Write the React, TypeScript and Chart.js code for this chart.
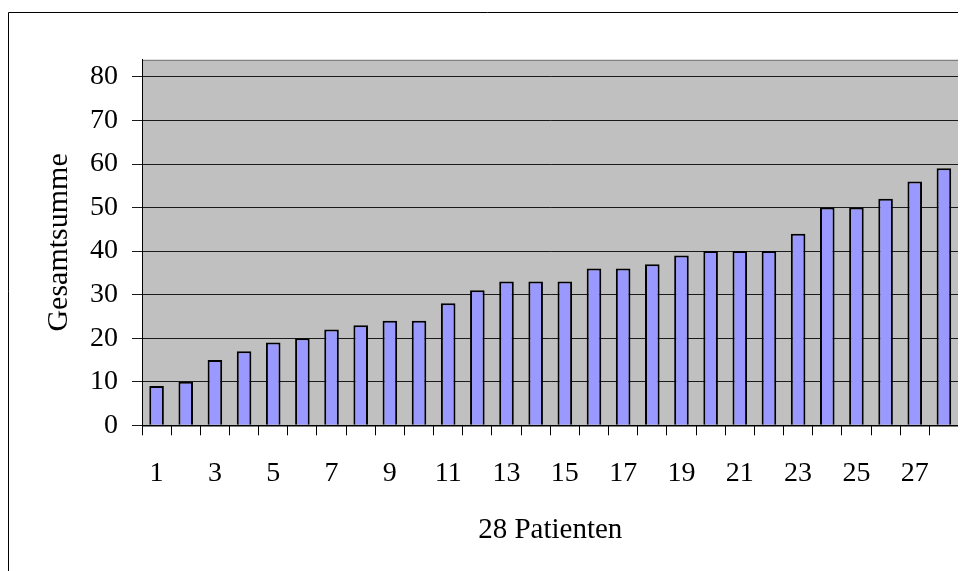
import React, { useEffect, useRef } from "react";
import { Chart, registerables } from "chart.js";

Chart.register(...registerables);

// Patients 1..28 and their total scores
const patients: string[] = [
  "1", "2", "3", "4", "5", "6", "7", "8", "9", "10",
  "11", "12", "13", "14", "15", "16", "17", "18", "19", "20",
  "21", "22", "23", "24", "25", "26", "27", "28",
];
const totals: number[] = [
  9, 10, 15, 17, 19, 20, 22, 23, 24, 24,
  28, 31, 33, 33, 33, 36, 36, 37, 39, 40,
  40, 40, 44, 50, 50, 52, 56, 59,
];
const yTickValues: number[] = [0, 10, 20, 30, 40, 50, 60, 70, 80];

const FONT = "'Liberation Serif', 'Times New Roman', serif";

// Grey plot background, plot border and the outer frame of the chart
const plotBackground = {
  id: "plotBackground",
  beforeDraw(chart: any) {
    const { ctx, chartArea } = chart;
    const { left, top, right, bottom } = chartArea;
    ctx.save();
    ctx.fillStyle = "#C0C0C0";
    ctx.fillRect(left, top, right - left, bottom - top);
    ctx.strokeStyle = "#808080";
    ctx.lineWidth = 1;
    ctx.strokeRect(Math.round(left) + 0.5, Math.round(top) + 0.5, Math.round(right - left), Math.round(bottom - top));
    // outer frame
    ctx.strokeStyle = "#000";
    ctx.beginPath();
    ctx.moveTo(0.5, chart.height);
    ctx.lineTo(0.5, 4.5);
    ctx.lineTo(chart.width, 4.5);
    ctx.stroke();
    ctx.restore();
  },
};

export default function App() {
  const canvasRef = useRef<HTMLCanvasElement | null>(null);

  useEffect(() => {
    if (!canvasRef.current) return;
    const chart = new Chart(canvasRef.current, {
      type: "bar",
      data: {
        labels: patients,
        datasets: [
          {
            data: totals,
            backgroundColor: "#9999FF",
            borderColor: "#000000",
            borderWidth: 2,
            barPercentage: 0.5,
            categoryPercentage: 1,
          },
        ],
      },
      options: {
        animation: false,
        responsive: false,
        maintainAspectRatio: false,
        layout: { padding: { left: 33, top: 51.5, right: 5.3, bottom: 23.2 } },
        plugins: {
          legend: { display: false },
          tooltip: { enabled: false },
          title: { display: false },
        },
        scales: {
          x: {
            type: "category",
            offset: true,
            grid: {
              offset: true,
              drawOnChartArea: false,
              drawTicks: true,
              tickLength: 10,
              color: "#000",
            },
            border: { display: true, color: "#000", width: 1 },
            ticks: {
              autoSkip: false,
              maxRotation: 0,
              minRotation: 0,
              padding: 22,
              color: "#000",
              font: { family: FONT, size: 28 },
              callback: (_v: any, i: number) => (i % 2 === 0 ? patients[i] : ""),
            },
            title: {
              display: true,
              text: "28 Patienten",
              color: "#000",
              padding: 0,
              font: { family: FONT, size: 29 },
            },
            afterFit: (scale: any) => {
              scale.height = 122.5;
            },
          },
          y: {
            min: 0,
            max: 84,
            grid: {
              color: "#1a1a1a",
              lineWidth: 1,
              drawTicks: true,
              tickLength: 10,
            },
            border: { display: true, color: "#000", width: 1 },
            afterBuildTicks: (scale: any) => {
              scale.ticks = yTickValues.map((v) => ({ value: v }));
            },
            ticks: {
              padding: 14,
              color: "#000",
              font: { family: FONT, size: 28 },
            },
            title: {
              display: true,
              text: "Gesamtsumme",
              color: "#000",
              padding: 0,
              font: { family: FONT, size: 30 },
            },
            afterFit: (scale: any) => {
              scale.width = 101;
            },
          },
        },
      },
      plugins: [plotBackground],
    });
    return () => chart.destroy();
  }, []);

  return (
    <div style={{ width: 958, height: 563 }}>
      <canvas ref={canvasRef} width={958} height={563} style={{ display: "block" }} />
    </div>
  );
}
